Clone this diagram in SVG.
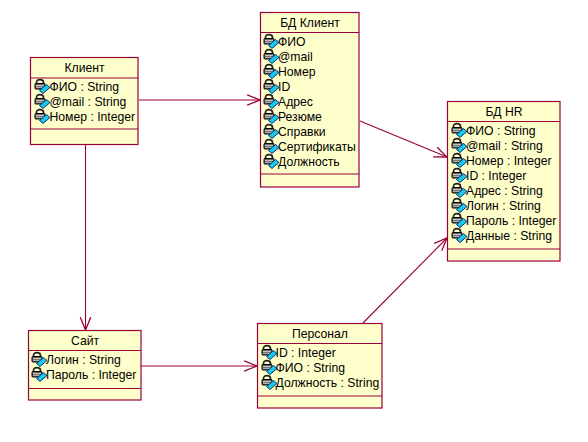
<svg xmlns="http://www.w3.org/2000/svg" width="588" height="442" viewBox="0 0 588 442">
<style>
.box{fill:#ffffcb;stroke:#98003a;stroke-width:1.2}
.div{stroke:#98003a;stroke-width:1.2;fill:none}
.t{font-family:"Liberation Sans",Arial,sans-serif;font-size:12.2px;fill:#000}
.c{text-anchor:middle}
.con{stroke:#98003a;stroke-width:1.1;fill:none}
</style>
<defs>
<marker id="arr" markerUnits="userSpaceOnUse" markerWidth="14" markerHeight="14" refX="11" refY="6" orient="auto" viewBox="0 0 12 12">
<path d="M0 1.500L11 6L0 10.500" fill="none" stroke="#98003a" stroke-width="1.100"/>
</marker>
<g id="ic">
<path d="M2.500 5V3.500Q2.500 .7 6 .7Q9.500 .7 9.500 3.500V5" fill="none" stroke="#222" stroke-width="1.700"/>
<rect x="1" y="4.500" width="10" height="5.500" rx=".8" fill="#666" stroke="#000" stroke-width="1"/>
<path d="M2 6.500H10M2 8.300H10" stroke="#ccc" stroke-width=".9"/>
<path d="M5.500 11.500L12.500 5.500L16 8.500L9 14.500Z" fill="#18c8ee" stroke="#00205a" stroke-width=".9"/>
</g>
</defs>
<g id="connectors">
<path class="con" marker-end="url(#arr)" d="M139 100H260"/>
<path class="con" marker-end="url(#arr)" d="M85.500 145V330"/>
<path class="con" marker-end="url(#arr)" d="M141 366H257"/>
<path class="con" marker-end="url(#arr)" d="M360 121L447 157"/>
<path class="con" marker-end="url(#arr)" d="M363 323L447 238"/>
</g>
<g id="client">
<rect class="box" x="30.500" y="57.500" width="107.500" height="87"/>
<path class="div" d="M30.500 78H138M30.500 129H138"/>
<text class="t c" x="84.500" y="72">Клиент</text>
<use href="#ic" x="34" y="79"/><text class="t" x="49.500" y="91">ФИО : String</text>
<use href="#ic" x="34" y="94"/><text class="t" x="49.500" y="106">@mail : String</text>
<use href="#ic" x="34" y="109"/><text class="t" x="49.500" y="121">Номер : Integer</text>
</g>
<g id="bd-client">
<rect class="box" x="260.500" y="12.500" width="98.500" height="174.500"/>
<path class="div" d="M260.500 32.500H359M260.500 174H359"/>
<text class="t c" x="310" y="27">БД Клиент</text>
<use href="#ic" x="263" y="34"/><text class="t" x="278" y="46">ФИО</text>
<use href="#ic" x="263" y="49"/><text class="t" x="278" y="61">@mail</text>
<use href="#ic" x="263" y="64"/><text class="t" x="278" y="76">Номер</text>
<use href="#ic" x="263" y="79"/><text class="t" x="278" y="91">ID</text>
<use href="#ic" x="263" y="94"/><text class="t" x="278" y="106">Адрес</text>
<use href="#ic" x="263" y="109"/><text class="t" x="278" y="121">Резюме</text>
<use href="#ic" x="263" y="124"/><text class="t" x="278" y="136">Справки</text>
<use href="#ic" x="263" y="139"/><text class="t" x="278" y="151">Сертификаты</text>
<use href="#ic" x="263" y="154"/><text class="t" x="278" y="166">Должность</text>
</g>
<g id="bd-hr">
<rect class="box" x="447.500" y="101.500" width="112.500" height="159.500"/>
<path class="div" d="M447.500 121.500H560M447.500 249H560"/>
<text class="t c" x="504" y="116">БД HR</text>
<use href="#ic" x="451" y="123"/><text class="t" x="466" y="135">ФИО : String</text>
<use href="#ic" x="451" y="138"/><text class="t" x="466" y="150">@mail : String</text>
<use href="#ic" x="451" y="153"/><text class="t" x="466" y="165">Номер : Integer</text>
<use href="#ic" x="451" y="168"/><text class="t" x="466" y="180">ID : Integer</text>
<use href="#ic" x="451" y="183"/><text class="t" x="466" y="195">Адрес : String</text>
<use href="#ic" x="451" y="198"/><text class="t" x="466" y="210">Логин : String</text>
<use href="#ic" x="451" y="213"/><text class="t" x="466" y="225">Пароль : Integer</text>
<use href="#ic" x="451" y="228"/><text class="t" x="466" y="240">Данные : String</text>
</g>
<g id="site">
<rect class="box" x="28.500" y="330.500" width="112.500" height="69.500"/>
<path class="div" d="M28.500 350.500H141M28.500 388.500H141"/>
<text class="t c" x="85" y="345">Сайт</text>
<use href="#ic" x="31" y="352"/><text class="t" x="46" y="364">Логин : String</text>
<use href="#ic" x="31" y="367"/><text class="t" x="46" y="379">Пароль : Integer</text>
</g>
<g id="personal">
<rect class="box" x="257.500" y="323.500" width="124.500" height="84.500"/>
<path class="div" d="M257.500 343.500H382M257.500 396H382"/>
<text class="t c" x="320" y="338">Персонал</text>
<use href="#ic" x="261" y="345"/><text class="t" x="275.500" y="357">ID : Integer</text>
<use href="#ic" x="261" y="360"/><text class="t" x="275.500" y="372">ФИО : String</text>
<use href="#ic" x="261" y="375"/><text class="t" x="275.500" y="387">Должность : String</text>
</g>
</svg>
